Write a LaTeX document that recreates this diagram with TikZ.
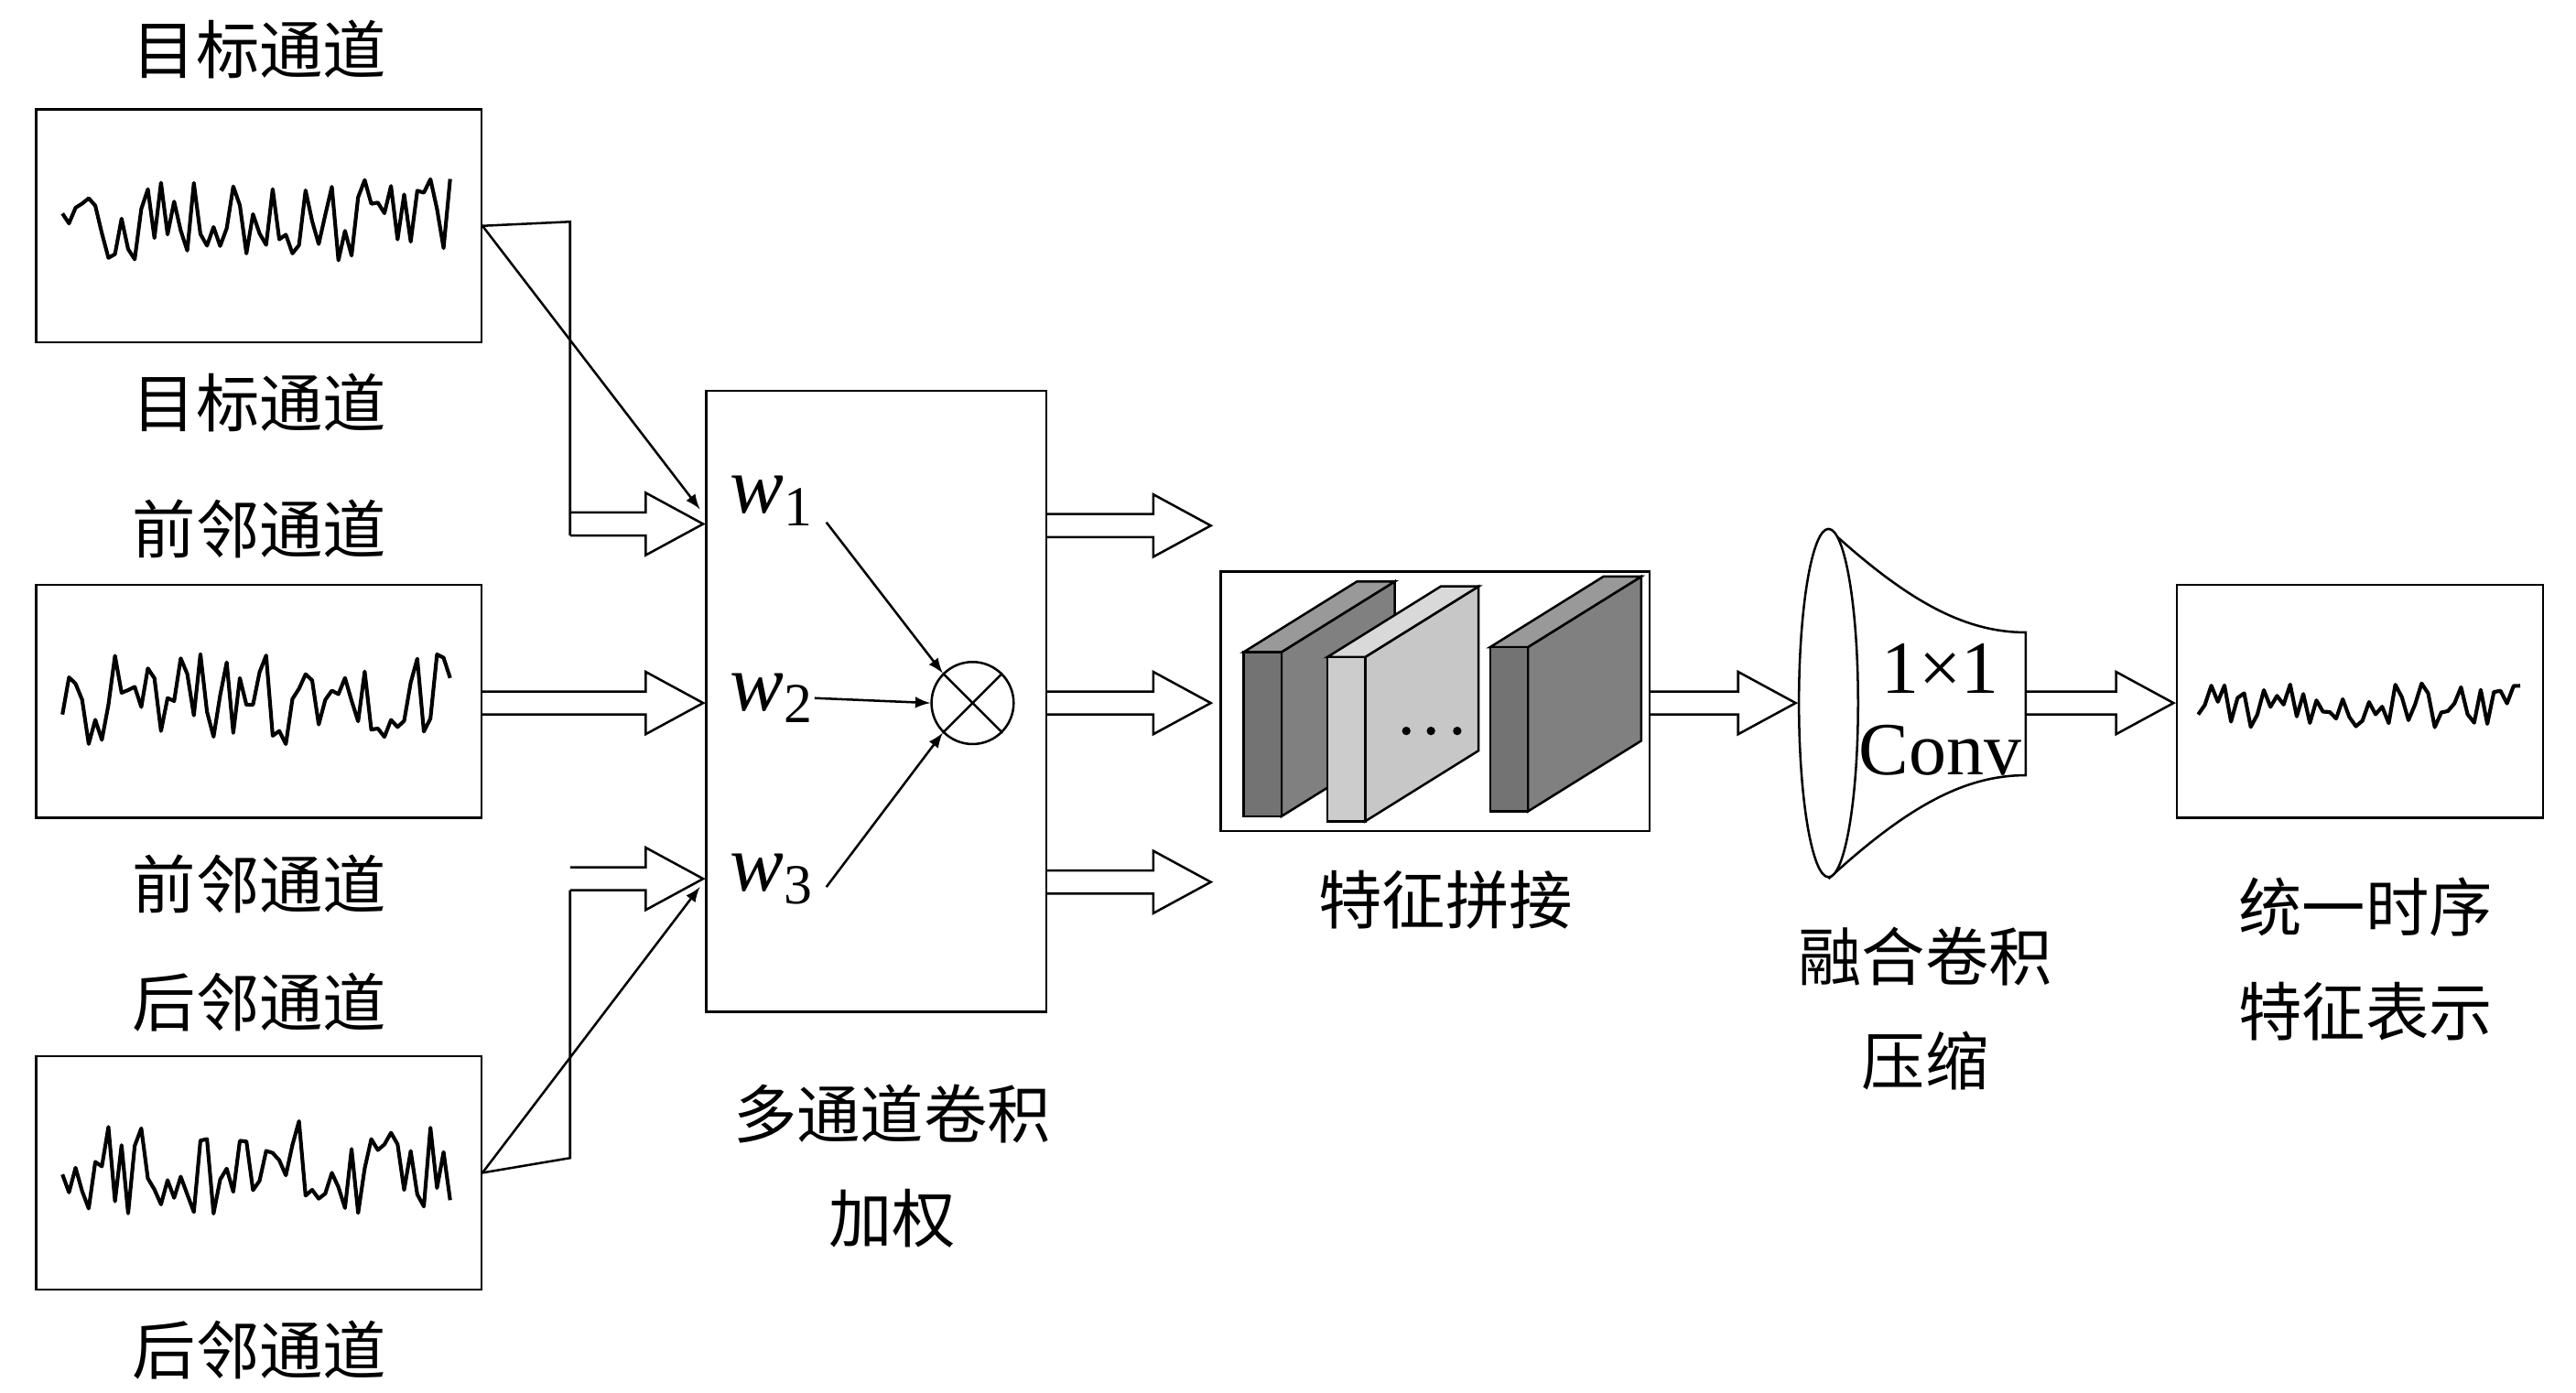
\documentclass[tikz,border=0pt]{standalone}
\usepackage{fontspec}
\setmainfont{Liberation Serif}
\newfontfamily\cjk{Noto Sans CJK SC}
\usetikzlibrary{positioning}

\colorlet{darkfront}{black!55}
\colorlet{darkside}{black!50}
\colorlet{darktop}{black!40}
\colorlet{lightfront}{black!20}
\colorlet{lightside}{black!22}
\colorlet{lighttop}{black!15}

% hollow horizontal arrow: from x1 to x2 at height y
\newcommand{\harrow}[3]{%
  \draw[thick] (#1,#3-7) -- (#2-35,#3-7) -- (#2-35,#3-19) -- (#2,#3) -- (#2-35,#3+19) -- (#2-35,#3+7) -- (#1,#3+7);}
% feature block: left x, top y of front face, colour prefix
\newcommand{\featblock}[3]{%
  \draw[thick,fill=#3side] (#1+23,#2) -- (#1+92,#2-43) -- (#1+92,#2+57) -- (#1+23,#2+100) -- cycle;
  \draw[thick,fill=#3top] (#1,#2) -- (#1+69,#2-43) -- (#1+92,#2-43) -- (#1+23,#2) -- cycle;
  \draw[thick,fill=#3front] (#1,#2) rectangle (#1+23,#2+100);}

\tikzset{
  lbl/.style={font=\cjk\fontsize{22}{26}\selectfont, inner sep=0pt},
  sigbox/.style={draw, thick, minimum width=5.42cm, minimum height=2.84cm, inner sep=0pt},
  sig/.style={line width=1.3pt, line join=round},
  wlbl/.style={font=\fontsize{28}{30}\selectfont\itshape, inner sep=0pt},
}

\begin{document}
\begin{tikzpicture}[x=0.02cm, y=-0.02cm]
        \useasboundingbox (0,0) rectangle (1568,848);

        % input channels
        \node[lbl] at (158,30) {目标通道};
        \node[sigbox] (tgt) at (157.5,137.5) {};
        \node[lbl] at (158,245) {目标通道};
        \node[lbl] at (158,322) {前邻通道};
        \node[sigbox] (prev) at (157.5,427) {};
        \node[lbl] at (158,538) {前邻通道};
        \node[lbl] at (158,610) {后邻通道};
        \node[sigbox] (next) at (157.5,714) {};
        \node[lbl] at (158,822) {后邻通道};

        % signals
        \pgfmathsetseed{11}
        \draw[sig] (38,130) \foreach \i in {1,...,59} { -- ({38+\i*4},{135+28*rand}) };
        \pgfmathsetseed{23}
        \draw[sig] (38,435) \foreach \i in {1,...,59} { -- ({38+\i*4},{428+30*rand}) };
        \pgfmathsetseed{37}
        \draw[sig] (38,715) \foreach \i in {1,...,59} { -- ({38+\i*4},{712+30*rand}) };

        % weighting block
        \node[draw, thick, minimum width=4.14cm, minimum height=7.56cm] (wbox) at (533.5,427) {};
        \node[wlbl] (w1) at (470,305) {w\textsubscript{\upshape 1}};
        \node[wlbl] (w2) at (470,425) {w\textsubscript{\upshape 2}};
        \node[wlbl] (w3) at (470,535) {w\textsubscript{\upshape 3}};
        \node[draw, thick, circle, minimum size=1cm, inner sep=0pt] (mul) at (592,428) {};
        \draw[thick] (mul.north west) -- (mul.south east);
        \draw[thick] (mul.north east) -- (mul.south west);
        \draw[thick,-latex] (503,318) -- (mul.north west);
        \draw[thick,-latex] (w2.east) -- (mul.west);
        \draw[thick,-latex] (503,540) -- (mul.south west);
        \node[lbl, align=center] at (543,710) {多通道卷积\\[0.35cm]加权};

        % inputs into weighting
        \draw[thick] (tgt.east) -- (347,135) -- (347,326);
        \harrow{347}{428}{319}
        \draw[thick,-latex] (tgt.east) -- (426,310);
        \harrow{293}{428}{428}
        \draw[thick] (next.east) -- (347,705) -- (347,542);
        \harrow{347}{428}{535}
        \draw[thick,-latex] (next.east) -- (426,540);

        % outputs
        \harrow{637}{737}{320}
        \harrow{637}{737}{428}
        \harrow{637}{737}{537}

        % concatenation
        \node[draw, thick, minimum width=5.22cm, minimum height=3.16cm] (cat) at (873.5,427) {};
        \featblock{757}{397}{dark}
        \featblock{808}{400}{light}
        \foreach \x in {856,871,887} \fill (\x,445) circle (2.6);
        \featblock{907}{394}{dark}
        \node[lbl] at (880,548) {特征拼接};
        \harrow{1004}{1093}{428}

        % fusion conv
        \draw[thick] (1113,322) .. controls (1160,365) and (1195,385) .. (1233,385) -- (1233,472) .. controls (1195,472) and (1160,492) .. (1113,535);
        \draw[thick, fill=white] (1113,428) ellipse [x radius=18, y radius=106];
        \node[font=\fontsize{26}{30}\selectfont, align=center, inner sep=0pt] (conv) at (1181,432) {1×1\\[-2pt]Conv};
        \node[lbl, align=center] at (1172,614) {融合卷积\\[0.35cm]压缩};
        \harrow{1233}{1323}{428}

        % output
        \node[draw, thick, minimum width=4.46cm, minimum height=2.84cm] (out) at (1436.5,427) {};
        \pgfmathsetseed{5}
        \draw[sig] (1338,435) \foreach \i in {1,...,49} { -- ({1338+\i*4},{430+14*rand}) };
        \node[lbl, align=center] at (1440,584) {统一时序\\[0.35cm]特征表示};
    \end{tikzpicture}
\end{document}
